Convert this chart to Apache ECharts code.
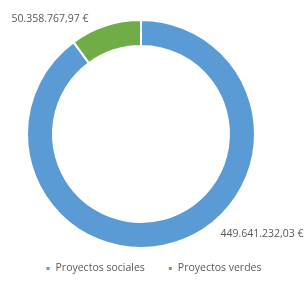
<!DOCTYPE html>
<html>
<head>
<meta charset="utf-8">
<script src="https://cdn.jsdelivr.net/npm/echarts@6/dist/echarts.min.js"></script>
<style>
    html, body { margin: 0; padding: 0; background: #fff; }
    #chart { width: 306px; height: 297px; }
</style>
</head>
<body>
<div id="chart"></div>
<script>
const categories = ['Proyectos sociales', 'Proyectos verdes'];
const values = [449641232.03, 50358767.97];
const colors = ['#5b9bd5', '#70ad47'];

// formato europeo: 449.641.232,03 €
function formatEuro(v) {
    const parts = v.toFixed(2).split('.');
    const ent = parts[0].replace(/\B(?=(\d{3})+(?!\d))/g, '.');
    return ent + ',' + parts[1] + ' €';
}

const chart = echarts.init(document.getElementById('chart'));

const option = {
    color: colors,
    legend: {
        bottom: 18,
        left: 'center',
        icon: 'rect',
        itemWidth: 5,
        itemHeight: 5,
        itemGap: 22,
        textStyle: { color: '#595959', fontSize: 10.5, fontFamily: 'Open Sans' },
        data: categories
    },
    series: [
        {
            type: 'pie',
            center: [141, 134],
            radius: [88, 114],
            startAngle: 90,
            clockwise: true,
            silent: true,
            itemStyle: { borderColor: '#fff', borderWidth: 2 },
            label: {
                show: true,
                position: 'outside',
                color: '#595959',
                fontSize: 10.5,
                fontFamily: 'Open Sans',
                overflow: 'none',
                width: 120,
                formatter: function(p) { return formatEuro(p.value); }
            },
            labelLine: { show: false },
            labelLayout: function(p) {
                // posición de las etiquetas como en el original
                if (p.dataIndex === 1) {
                    return { x: 50, y: 19, align: 'center', verticalAlign: 'middle' };
                }
                return { x: 262, y: 234, align: 'center', verticalAlign: 'middle' };
            },
            data: categories.map(function(name, i) {
                return { name: name, value: values[i] };
            })
        }
    ]
};

chart.setOption(option);

window.addEventListener('resize', function() {
    chart.resize();
});
</script>
</body>
</html>
